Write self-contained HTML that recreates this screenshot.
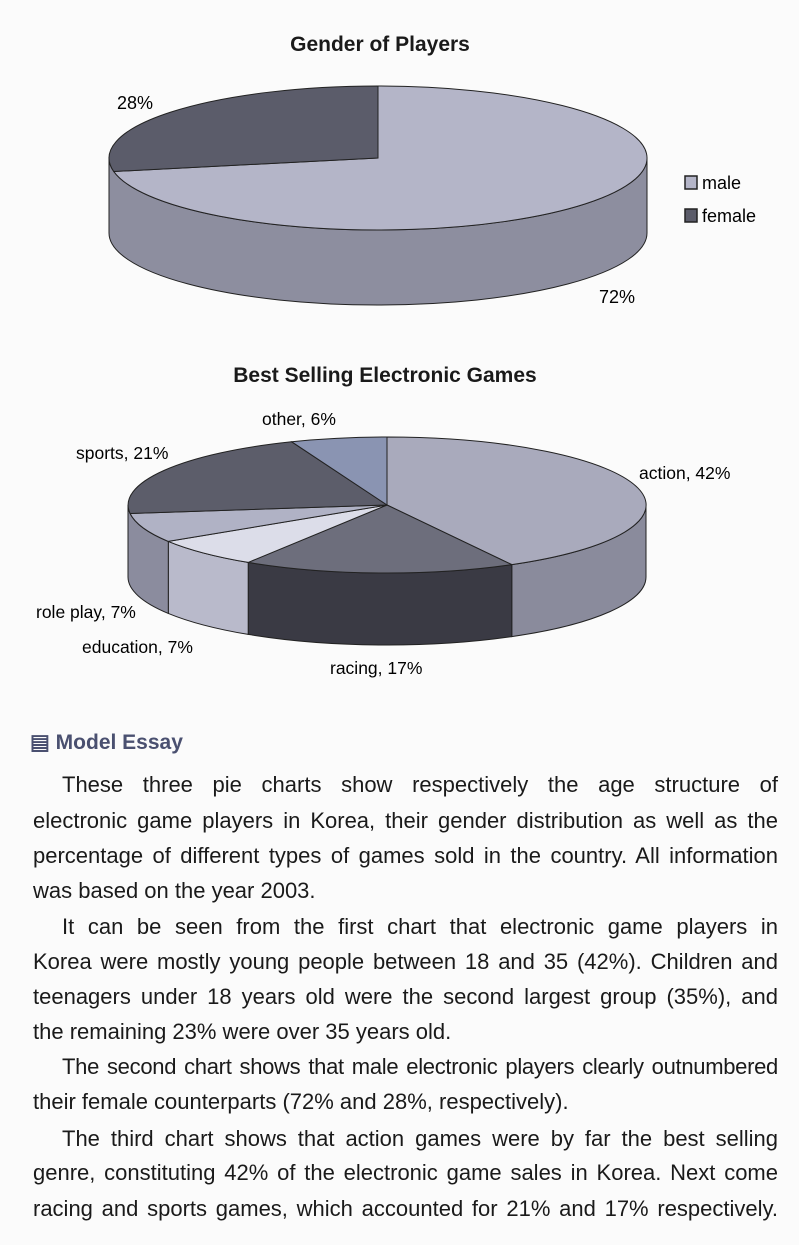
<!DOCTYPE html>
<html><head><meta charset="utf-8">
<style>
body{margin:0;background:#fbfbfb;}
#p{position:relative;width:799px;height:1245px;overflow:hidden;font-family:"Liberation Sans",sans-serif;color:#1a1a1a;}
.t{position:absolute;white-space:nowrap;}
.ln{position:absolute;left:33px;width:745px;font-size:22px;line-height:26px;text-align:justify;text-align-last:justify;white-space:nowrap;}
.ln.i{left:62px;width:716px;}
.ln.e{text-align-last:left;}
</style></head><body><div id="p">
<svg width="799" height="720" style="position:absolute;left:0;top:0" font-family="Liberation Sans, sans-serif">
<text x="380" y="51" text-anchor="middle" font-size="21" font-weight="bold" fill="#1a1a1a">Gender of Players</text>
<g stroke="#222" stroke-width="1">
<path d="M647,158 A269 72 0 0 1 109,158 L109,233 A269 72 0 0 0 647,233 Z" fill="#8d8e9f"/>
<path d="M378,158 L378,86 A269 72 0 1 1 113.8,171.5 Z" fill="#b4b5c8"/>
<path d="M378,158 L113.8,171.5 A269 72 0 0 1 378,86 Z" fill="#5b5c6a"/>
</g>
<text x="135" y="109" font-size="18" text-anchor="middle">28%</text>
<text x="617" y="303" font-size="18" text-anchor="middle">72%</text>
<rect x="685" y="176" width="12" height="13" fill="#b4b5c8" stroke="#222" stroke-width="1.5"/>
<text x="702" y="189" font-size="18">male</text>
<rect x="685" y="209" width="12" height="13" fill="#5b5c6a" stroke="#222" stroke-width="1.5"/>
<text x="702" y="222" font-size="18">female</text>

<text x="385" y="382" text-anchor="middle" font-size="21" font-weight="bold" fill="#1a1a1a">Best Selling Electronic Games</text>
<g stroke="#222" stroke-width="1">
<path d="M646,505 A259 68 0 0 1 511.8,564.6 L511.8,636.6 A259 68 0 0 0 646,577 Z" fill="#8a8b9c"/>
<path d="M511.8,564.6 A259 68 0 0 1 248.2,562.4 L248.2,634.4 A259 68 0 0 0 511.8,636.6 Z" fill="#3a3a44"/>
<path d="M248.2,562.4 A259 68 0 0 1 168.3,541.4 L168.3,613.4 A259 68 0 0 0 248.2,634.4 Z" fill="#b9bacb"/>
<path d="M168.3,541.4 A259 68 0 0 1 128,505 L128,577 A259 68 0 0 0 168.3,613.4 Z" fill="#8b8c9e"/>
<path d="M387,505 L387,437 A259 68 0 0 1 511.8,564.6 Z" fill="#a9aabc"/>
<path d="M387,505 L511.8,564.6 A259 68 0 0 1 248.2,562.4 Z" fill="#6d6e7c"/>
<path d="M387,505 L248.2,562.4 A259 68 0 0 1 168.3,541.4 Z" fill="#dcdde9"/>
<path d="M387,505 L168.3,541.4 A259 68 0 0 1 130.1,513.5 Z" fill="#b0b2c5"/>
<path d="M387,505 L130.1,513.5 A259 68 0 0 1 291.7,441.8 Z" fill="#5c5d6a"/>
<path d="M387,505 L291.7,441.8 A259 68 0 0 1 387,437 Z" fill="#8a94b2"/>
</g>
<text x="262" y="425" font-size="17.5">other, 6%</text>
<text x="76" y="459" font-size="17.5">sports, 21%</text>
<text x="639" y="479" font-size="17.5">action, 42%</text>
<text x="36" y="618" font-size="17.5">role play, 7%</text>
<text x="82" y="653" font-size="17.5">education, 7%</text>
<text x="330" y="674" font-size="17.5">racing, 17%</text>
</svg>
<div class="t" style="left:30px;top:730px;font-size:21px;font-weight:bold;color:#4a5070;">&#9636; Model Essay</div>
<div class="ln i" style="top:772px">These three pie charts show respectively the age structure of</div>
<div class="ln" style="top:808px">electronic game players in Korea, their gender distribution as well as the</div>
<div class="ln" style="top:843px">percentage of different types of games sold in the country. All information</div>
<div class="ln e" style="top:878px">was based on the year 2003.</div>
<div class="ln i" style="top:914px">It can be seen from the first chart that electronic game players in</div>
<div class="ln" style="top:949px">Korea were mostly young people between 18 and 35 (42%). Children and</div>
<div class="ln" style="top:984px">teenagers under 18 years old were the second largest group (35%), and</div>
<div class="ln e" style="top:1019px">the remaining 23% were over 35 years old.</div>
<div class="ln i" style="top:1054px;letter-spacing:-0.3px">The second chart shows that male electronic players clearly outnumbered</div>
<div class="ln e" style="top:1089px">their female counterparts (72% and 28%, respectively).</div>
<div class="ln i" style="top:1126px">The third chart shows that action games were by far the best selling</div>
<div class="ln" style="top:1160px">genre, constituting 42% of the electronic game sales in Korea. Next come</div>
<div class="ln" style="top:1196px">racing and sports games, which accounted for 21% and 17% respectively.</div>
</div></body></html>
